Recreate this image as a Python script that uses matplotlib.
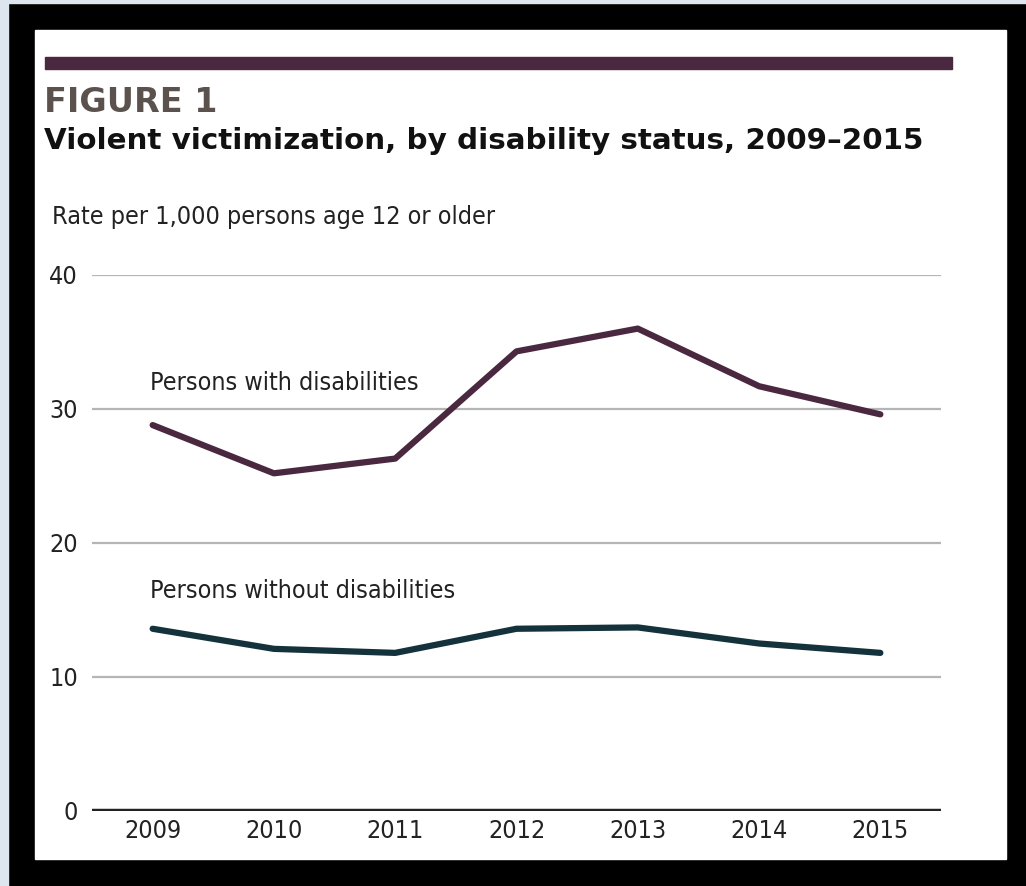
import matplotlib
matplotlib.use("Agg")
import matplotlib.pyplot as plt
from matplotlib.patches import Rectangle

years = [2009, 2010, 2011, 2012, 2013, 2014, 2015]
with_disab = [28.8, 25.2, 26.3, 34.3, 36.0, 31.7, 29.6]
without_disab = [13.6, 12.1, 11.8, 13.6, 13.7, 12.5, 11.8]
y_ticks = [0, 10, 20, 30, 40]

W, H = 1026, 886
purple = "#4a2940"
teal = "#14323b"
narrow = dict(family="DejaVu Sans", fontstretch="condensed")


def fx(px):
    return px / W


def fy(py):
    return 1 - py / H


fig = plt.figure(figsize=(W / 100, H / 100), dpi=100, facecolor="black")

# frame: light strip, white panel, purple rule
fig.add_artist(Rectangle((0, 0), fx(8), 1, transform=fig.transFigure, color="#dde6ee", zorder=0))
fig.add_artist(Rectangle((0, fy(3)), 1, 1 - fy(3), transform=fig.transFigure, color="#dde6ee", zorder=0))
fig.add_artist(Rectangle((fx(35), fy(859)), fx(1006) - fx(35), fy(30) - fy(859),
                         transform=fig.transFigure, color="white", zorder=0))
fig.add_artist(Rectangle((fx(45), fy(69)), fx(952) - fx(45), fy(57) - fy(69),
                         transform=fig.transFigure, color=purple, zorder=1))

fig.text(fx(44), fy(112), "FIGURE 1", fontsize=24, fontweight="heavy", family="DejaVu Sans",
         color="#5b524e", va="baseline")
fig.text(fx(44), fy(149), "Violent victimization, by disability status, 2009\u20132015", fontsize=21.2,
         fontweight="bold", family="DejaVu Sans", color="#111111", va="baseline")
fig.text(fx(52), fy(224), "Rate per 1,000 persons age 12 or older", fontsize=18, color="#222222",
         va="baseline", **narrow)

ax = fig.add_axes([fx(92), fy(811), fx(941) - fx(92), fy(275) - fy(811)])
ax.set_facecolor("none")
ax.plot(years, with_disab, color=purple, lw=4.5, solid_capstyle="round", zorder=3)
ax.plot(years, without_disab, color=teal, lw=4.5, solid_capstyle="round", zorder=3)

ax.text(2008.98, 31.4, "Persons with disabilities", fontsize=18, color="#222222", va="baseline", **narrow)
ax.text(2008.98, 15.9, "Persons without disabilities", fontsize=18, color="#222222", va="baseline", **narrow)

ax.set_xlim(2008.5, 2015.5)
ax.set_ylim(0, 40)
ax.set_yticks(y_ticks)
ax.set_xticks(years)
for t in y_ticks[1:]:
    ax.axhline(t, color="#b5b5b5", lw=1.6, zorder=1)
ax.axhline(0, color="#222222", lw=3.2, zorder=2)
for s in ax.spines.values():
    s.set_visible(False)
ax.tick_params(length=0, labelsize=18, colors="#222222", pad=10)
ax.tick_params(axis="x", pad=6)
for lab in ax.get_xticklabels() + ax.get_yticklabels():
    lab.set_family(narrow["family"])
    lab.set_stretch("condensed")

fig.savefig("out.png", dpi=100, facecolor="black")
